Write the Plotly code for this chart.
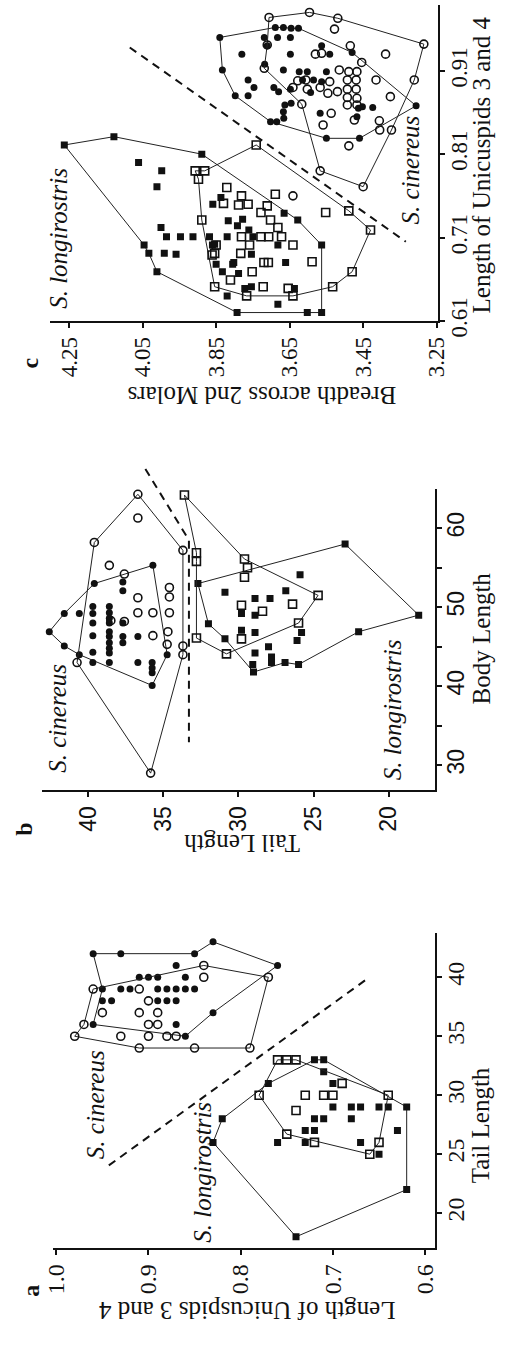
import plotly.graph_objects as go

W, H = 506, 1347

# ======================= Panel a : Tail Length vs Length of Unicuspids 3 and 4
a_cin_fill_hull_tail = [42, 42, 42, 43, 41, 37, 35, 36, 39]
a_cin_fill_hull_uni = [0.96, 0.93, 0.85, 0.83, 0.76, 0.83, 0.86, 0.96, 0.95]
a_cin_fill_tail = [41, 40, 40, 40, 40, 39, 39, 39, 39, 39, 39, 39, 38, 38, 38, 38, 38, 36]
a_cin_fill_uni = [0.87, 0.91, 0.90, 0.89, 0.86, 0.93, 0.92, 0.89, 0.88, 0.87, 0.86, 0.85,
                  0.95, 0.94, 0.89, 0.88, 0.87, 0.87]

a_cin_open_hull_tail = [35, 34, 34, 34, 40, 41, 39, 36]
a_cin_open_hull_uni = [0.98, 0.91, 0.85, 0.79, 0.77, 0.84, 0.96, 0.97]
a_cin_open_tail = [40, 39, 38, 37, 37, 37, 36, 36, 35, 35, 35, 35]
a_cin_open_uni = [0.84, 0.91, 0.90, 0.95, 0.91, 0.89, 0.90, 0.89, 0.93, 0.90, 0.88, 0.87]

a_lon_fill_hull_tail = [26, 28, 31, 33, 33, 29, 22, 18]
a_lon_fill_hull_uni = [0.83, 0.82, 0.77, 0.72, 0.71, 0.62, 0.62, 0.74]
a_lon_fill_tail = [32, 31, 29, 29, 29, 29, 29, 28, 28, 28, 27, 27, 27, 26, 26, 26, 25]
a_lon_fill_uni = [0.71, 0.70, 0.64, 0.65, 0.67, 0.68, 0.70, 0.72, 0.71, 0.68, 0.73, 0.72,
                  0.63, 0.76, 0.73, 0.67, 0.65]

a_lon_open_hull_tail = [33, 33, 30, 26, 25, 26.7, 30]
a_lon_open_hull_uni = [0.76, 0.74, 0.64, 0.65, 0.66, 0.75, 0.78]
a_lon_open_tail = [33, 31, 30, 30, 30, 28.7, 26]
a_lon_open_uni = [0.75, 0.69, 0.73, 0.71, 0.70, 0.74, 0.72]

a_split_tail = [24.05, 39.8]
a_split_uni = [0.943, 0.664]

# ======================= Panel b : Body Length vs Tail Length
b_cin_fill_hull_body = [46.9, 49.2, 53.0, 55.3, 44.0, 40.1, 44.0, 45.1]
b_cin_fill_hull_tail = [42.6, 41.6, 39.6, 35.7, 34.75, 35.75, 40.6, 41.6]
b_cin_fill_body = [49.2, 50.1, 49.2, 48.0, 46.4, 44.3, 43.0, 50.1, 49.3, 48.6, 48.0, 46.9,
                   46.3, 45.5, 44.8, 44.2, 43.0, 53.2, 52.1, 48.0, 46.3, 45.5, 46.3, 43.0,
                   43.0, 42.3, 41.7]
b_cin_fill_tail = [40.6, 39.7, 39.7, 39.7, 39.7, 39.7, 39.7, 38.6, 38.6, 38.6, 38.6, 38.6,
                   38.6, 38.6, 38.6, 38.6, 38.6, 37.7, 37.7, 37.7, 37.7, 37.7, 36.7, 36.7,
                   35.75, 35.75, 35.75]

b_cin_open_hull_body = [64.3, 57.2, 44.0, 29.0, 43.0, 58.2]
b_cin_open_hull_tail = [36.7, 33.7, 33.7, 35.85, 40.75, 39.6]
b_cin_open_body = [61.3, 55.3, 54.2, 52.5, 51.3, 51.2, 49.3, 49.3, 49.3, 48.2, 48.3, 46.4,
                   46.9, 45.3, 45.1]
b_cin_open_tail = [36.7, 38.6, 37.6, 34.6, 34.6, 36.7, 36.7, 35.7, 34.6, 37.6, 38.5, 35.7,
                   34.7, 34.75, 33.7]

b_lon_fill_hull_body = [53.0, 58.0, 49.0, 46.9, 42.75, 43.0, 41.8, 46.0, 47.9]
b_lon_fill_hull_tail = [32.7, 22.9, 18.0, 22.0, 26.0, 26.9, 29.0, 30.9, 32.0]
b_lon_fill_body = [51.9, 54.1, 52.1, 51.1, 51.1, 49.2, 49.0, 47.1, 46.8, 46.8, 45.8, 45.0,
                   44.2, 43.7, 43.0, 42.75]
b_lon_fill_tail = [30.9, 25.9, 26.85, 28.9, 27.9, 29.8, 28.9, 29.8, 28.9, 25.8, 26.1, 28.0,
                   28.9, 27.8, 27.8, 29.05]

b_lon_open_hull_body = [64.2, 56.1, 51.5, 48.0, 44.1, 46.1, 55.8, 56.9]
b_lon_open_hull_tail = [33.6, 29.6, 24.7, 26.0, 30.8, 32.8, 32.8, 32.8]
b_lon_open_body = [55.0, 53.8, 50.4, 50.25, 49.5, 46.0]
b_lon_open_tail = [29.4, 29.6, 26.4, 29.8, 28.4, 29.8]

b_split_body = [67.5, 58.5, 32.9]
b_split_tail = [36.2, 33.3, 33.3]

# ======================= Panel c : Length of Unicuspids 3 and 4 vs Breadth across 2nd Molars
c_cin_fill_hull_uni = [0.950, 0.962, 0.962, 0.961, 0.961, 0.932, 0.868, 0.829, 0.829, 0.849,
                       0.880, 0.911]
c_cin_fill_hull_bre = [3.840, 3.689, 3.667, 3.646, 3.626, 3.480, 3.306, 3.460, 3.550, 3.702,
                       3.798, 3.833]
c_cin_fill_uni = [0.930, 0.950, 0.950, 0.950, 0.940, 0.930, 0.918, 0.940, 0.930, 0.911,
                  0.909, 0.909, 0.909, 0.899, 0.899, 0.899, 0.890, 0.880, 0.890, 0.885,
                  0.888, 0.869, 0.871, 0.861, 0.853, 0.849, 0.884, 0.859, 0.897, 0.865,
                  0.867, 0.866, 0.855]
c_cin_fill_bre = [3.780, 3.719, 3.683, 3.648, 3.711, 3.648, 3.718, 3.563, 3.541, 3.667,
                  3.624, 3.602, 3.550, 3.615, 3.585, 3.763, 3.747, 3.763, 3.693, 3.680,
                  3.648, 3.663, 3.646, 3.667, 3.666, 3.685, 3.593, 3.567, 3.563, 3.463,
                  3.452, 3.424, 3.467]

c_cin_open_hull_uni = [0.974, 0.980, 0.973, 0.942, 0.899, 0.839, 0.771, 0.790, 0.870, 0.913,
                       0.941]
c_cin_open_hull_bre = [3.706, 3.596, 3.519, 3.285, 3.311, 3.373, 3.450, 3.567, 3.617, 3.719,
                       3.711]
c_cin_open_uni = [0.960, 0.940, 0.930, 0.931, 0.920, 0.930, 0.898, 0.899, 0.911, 0.909,
                  0.909, 0.899, 0.899, 0.897, 0.890, 0.888, 0.890, 0.883, 0.885, 0.888,
                  0.888, 0.899, 0.878, 0.877, 0.869, 0.869, 0.859, 0.845, 0.851, 0.850,
                  0.839, 0.879, 0.820, 0.760]
c_cin_open_bre = [3.528, 3.485, 3.580, 3.563, 3.454, 3.389, 3.628, 3.606, 3.515, 3.489,
                  3.467, 3.493, 3.469, 3.541, 3.641, 3.602, 3.567, 3.546, 3.520, 3.493,
                  3.469, 3.415, 3.493, 3.467, 3.493, 3.467, 3.537, 3.559, 3.474, 3.406,
                  3.405, 3.376, 3.489, 3.641]

c_lon_fill_hull_uni = [0.821, 0.831, 0.810, 0.731, 0.701, 0.620, 0.620, 0.620, 0.669, 0.691,
                       0.701]
c_lon_fill_hull_bre = [4.263, 4.128, 3.889, 3.628, 3.563, 3.563, 3.602, 3.793, 4.011, 4.033,
                       4.046]
c_lon_fill_uni = [0.800, 0.790, 0.771, 0.722, 0.711, 0.711, 0.711, 0.711, 0.750, 0.758,
                  0.730, 0.711, 0.678, 0.669, 0.691, 0.690, 0.678, 0.640, 0.701, 0.732,
                  0.739, 0.724, 0.719, 0.711, 0.702, 0.701, 0.690, 0.680, 0.680, 0.667,
                  0.649, 0.651, 0.649, 0.630]
c_lon_fill_bre = [4.061, 3.998, 4.011, 4.000, 3.985, 3.947, 3.913, 3.868, 3.859, 3.837,
                  3.817, 3.820, 3.850, 3.833, 3.991, 3.959, 3.805, 3.820, 3.860, 3.778,
                  3.665, 3.792, 3.761, 3.750, 3.854, 3.682, 3.754, 3.802, 3.661, 3.789,
                  3.772, 3.754, 3.637, 3.682]

c_lon_open_hull_uni = [0.790, 0.790, 0.821, 0.742, 0.719, 0.669, 0.651, 0.640, 0.640, 0.651,
                       0.731, 0.780]
c_lon_open_hull_bre = [3.907, 3.881, 3.741, 3.489, 3.430, 3.480, 3.533, 3.641, 3.767, 3.854,
                       3.889, 3.898]
c_lon_open_uni = [0.770, 0.760, 0.762, 0.751, 0.749, 0.750, 0.748, 0.740, 0.740, 0.731,
                  0.722, 0.711, 0.711, 0.711, 0.711, 0.701, 0.691, 0.701, 0.680, 0.680,
                  0.681, 0.669, 0.659, 0.651, 0.649, 0.691, 0.701, 0.689]
c_lon_open_bre = [3.821, 3.781, 3.689, 3.830, 3.789, 3.763, 3.711, 3.728, 3.552, 3.702,
                  3.682, 3.781, 3.728, 3.707, 3.672, 3.759, 3.783, 3.641, 3.720, 3.708,
                  3.589, 3.752, 3.811, 3.722, 3.654, 3.854, 3.850, 3.861]

c_split_uni = [0.938, 0.705]
c_split_bre = [4.085, 3.334]

# ----------------------------------------------------------------- styling
SERIF = "Liberation Serif, Times New Roman, serif"
SANS = "Liberation Sans, Arial, sans-serif"
INK = "#111111"

MK = {
    "fc": dict(symbol="circle", size=7, color=INK),
    "oc": dict(symbol="circle-open", size=8, color=INK, line=dict(width=1.6, color=INK)),
    "fs": dict(symbol="square", size=7, color=INK),
    "os": dict(symbol="square-open", size=8, color=INK, line=dict(width=1.6, color=INK)),
}

fig = go.Figure()


def group(xa, ya, hull_h, hull_v, pts_h, pts_v, kind):
    # hull polygon (closed) + markers; h = horizontal screen value, v = vertical screen value
    fig.add_trace(go.Scatter(
        x=hull_h + hull_h[:1], y=hull_v + hull_v[:1], mode="lines",
        line=dict(color="#222222", width=1), xaxis=xa, yaxis=ya,
        hoverinfo="skip", showlegend=False))
    fig.add_trace(go.Scatter(
        x=hull_h + pts_h, y=hull_v + pts_v, mode="markers", marker=MK[kind],
        xaxis=xa, yaxis=ya, showlegend=False))


def split(xa, ya, h, v):
    fig.add_trace(go.Scatter(
        x=h, y=v, mode="lines", line=dict(color=INK, width=2, dash="8px,6px"),
        xaxis=xa, yaxis=ya, hoverinfo="skip", showlegend=False))


# panel a (x = unicuspids, y = tail length)
split("x", "y", a_split_uni, a_split_tail)
group("x", "y", a_cin_fill_hull_uni, a_cin_fill_hull_tail, a_cin_fill_uni, a_cin_fill_tail, "fc")
group("x", "y", a_cin_open_hull_uni, a_cin_open_hull_tail, a_cin_open_uni, a_cin_open_tail, "oc")
group("x", "y", a_lon_fill_hull_uni, a_lon_fill_hull_tail, a_lon_fill_uni, a_lon_fill_tail, "fs")
group("x", "y", a_lon_open_hull_uni, a_lon_open_hull_tail, a_lon_open_uni, a_lon_open_tail, "os")

# panel b (x = tail length, y = body length); the split line sits on a hidden twin
# axis pair with the same scale but a taller domain so it can rise above the frame
split("x4", "y4", b_split_tail, b_split_body)
group("x2", "y2", b_cin_fill_hull_tail, b_cin_fill_hull_body, b_cin_fill_tail, b_cin_fill_body, "fc")
group("x2", "y2", b_cin_open_hull_tail, b_cin_open_hull_body, b_cin_open_tail, b_cin_open_body, "oc")
group("x2", "y2", b_lon_fill_hull_tail, b_lon_fill_hull_body, b_lon_fill_tail, b_lon_fill_body, "fs")
group("x2", "y2", b_lon_open_hull_tail, b_lon_open_hull_body, b_lon_open_tail, b_lon_open_body, "os")

# panel c (x = breadth, y = unicuspids)
split("x3", "y3", c_split_bre, c_split_uni)
group("x3", "y3", c_cin_fill_hull_bre, c_cin_fill_hull_uni, c_cin_fill_bre, c_cin_fill_uni, "fc")
group("x3", "y3", c_cin_open_hull_bre, c_cin_open_hull_uni, c_cin_open_bre, c_cin_open_uni, "oc")
group("x3", "y3", c_lon_fill_hull_bre, c_lon_fill_hull_uni, c_lon_fill_bre, c_lon_fill_uni, "fs")
group("x3", "y3", c_lon_open_hull_bre, c_lon_open_hull_uni, c_lon_open_bre, c_lon_open_uni, "os")


def hx(px):
    return px / W


def vy(px):
    return 1 - px / H


AX = dict(showline=True, linewidth=2, linecolor=INK, ticks="outside", ticklen=5,
          tickwidth=1.5, tickcolor=INK, showgrid=False, zeroline=False,
          fixedrange=True, tickangle=-90, tickmode="array")
INNER = dict(showline=False, ticks="inside", ticklen=4, tickwidth=1.5, tickcolor=INK,
             showgrid=False, zeroline=False, fixedrange=True, showticklabels=False,
             tickmode="array")

a_xticks = [1.0, 0.9, 0.8, 0.7, 0.6]
a_yticks = [20, 25, 30, 35, 40]
b_xticks = [40, 35, 30, 25, 20]
b_yticks = [30, 35, 40, 45, 50, 55, 60]
b_ylabels = ["30", "", "40", "", "50", "", "60"]
c_xticks = [4.25, 4.05, 3.85, 3.65, 3.45, 3.25]
c_yticks = [0.61, 0.71, 0.81, 0.91]

a_xrange, a_yrange = [1.0034, 0.5897], [17.07, 43.72]
b_xrange, b_yrange = [43.09, 16.92], [26.875, 65]
c_xrange, c_yrange = [4.302, 3.246], [0.61, 0.989]

fig.update_layout(
    width=W, height=H, margin=dict(l=0, r=0, t=0, b=0),
    paper_bgcolor="white", plot_bgcolor="rgba(0,0,0,0)", showlegend=False,
    xaxis=dict(AX, domain=[hx(45), hx(443)], range=a_xrange, anchor="y",
               tickvals=a_xticks, ticktext=["1.0", "0.9", "0.8", "0.7", "0.6"],
               tickfont=dict(family=SERIF, size=24, color=INK)),
    yaxis=dict(AX, domain=[vy(1263.7), vy(945.3)], range=a_yrange, anchor="x",
               side="right", tickvals=a_yticks, ticktext=[str(v) for v in a_yticks],
               ticklabelstandoff=-6,
               tickfont=dict(family=SERIF, size=24, color=INK)),
    xaxis2=dict(AX, domain=[hx(33.3), hx(443.3)], range=b_xrange, anchor="y2",
                tickvals=b_xticks, ticktext=[str(v) for v in b_xticks],
                tickfont=dict(family=SANS, size=23, color=INK)),
    yaxis2=dict(AX, domain=[vy(800), vy(495)], range=b_yrange, anchor="x2",
                side="right", tickvals=b_yticks, ticktext=b_ylabels,
                ticklabelstandoff=-6,
                tickfont=dict(family=SANS, size=23, color=INK)),
    xaxis3=dict(AX, domain=[hx(41.7), hx(446.7)], range=c_xrange, anchor="y3",
                tickvals=c_xticks, ticktext=["4.25", "4.05", "3.85", "3.65", "3.45", "3.25"],
                tickfont=dict(family=SERIF, size=23, color=INK)),
    yaxis3=dict(AX, domain=[vy(325), vy(5)], range=c_yrange, anchor="x3",
                side="right", tickvals=c_yticks, ticktext=["0.61", "0.71", "0.81", "0.91"],
                ticklabelstandoff=-6,
                tickfont=dict(family=SERIF, size=23, color=INK)),
    # hidden twin of panel b, same px-per-unit, domain extended 25 px upward
    xaxis4=dict(visible=False, domain=[hx(33.3), hx(443.3)], range=b_xrange, anchor="y4",
                fixedrange=True),
    yaxis4=dict(visible=False, domain=[vy(800), vy(470)],
                range=[b_yrange[0], b_yrange[1] + 25 * (b_yrange[1] - b_yrange[0]) / 305],
                anchor="x4", fixedrange=True),
    # inner halves of the crossing tick marks
    xaxis5=dict(INNER, overlaying="x", anchor="y", range=a_xrange, tickvals=a_xticks),
    yaxis5=dict(INNER, overlaying="y", anchor="x", side="right", range=a_yrange, tickvals=a_yticks),
    xaxis6=dict(INNER, overlaying="x2", anchor="y2", range=b_xrange, tickvals=b_xticks),
    yaxis6=dict(INNER, overlaying="y2", anchor="x2", side="right", range=b_yrange, tickvals=b_yticks),
    xaxis7=dict(INNER, overlaying="x3", anchor="y3", range=c_xrange, tickvals=c_xticks),
    yaxis7=dict(INNER, overlaying="y3", anchor="x3", side="right", range=c_yrange, tickvals=c_yticks),
)

notes = [
    # text, x px, y px, angle, size
    ("<b>a</b>", 21, 1307, -90, 24),
    ("Length of Unicuspids 3 and 4", 247, 1327, 180, 25),
    ("Tail Length", 491, 1140, -90, 25),
    ("<i>S. cinereus</i>", 90, 1119, -90, 25),
    ("<i>S. longirostris</i>", 200, 1187, -90, 25),
    ("<b>b</b>", 15, 840, -90, 24),
    ("Tail Length", 242, 855, 180, 25),
    ("Body Length", 492, 647, -90, 25),
    ("<i>S. cinereus</i>", 50, 727, -90, 25),
    ("<i>S. longirostris</i>", 400, 719, -90, 25),
    ("<b>c</b>", 21, 368, -90, 24),
    ("Breadth across 2nd Molars", 263, 400, 180, 25),
    ("Length of Unicuspids 3 and 4", 492, 167, -90, 25),
    ("<i>S. longirostris</i>", 51, 241, -90, 25),
    ("<i>S. cinereus</i>", 418, 172, -90, 25),
]
for text, px, py, ang, size in notes:
    fig.add_annotation(text=text, x=hx(px), y=vy(py), xref="paper", yref="paper",
                       showarrow=False, textangle=ang, xanchor="center", yanchor="middle",
                       font=dict(family=SERIF, size=size, color=INK))

fig.write_html("out.html", config={"displayModeBar": False},
               post_script="document.body.style.margin='0';"
                           "document.body.style.overflow='hidden';")
